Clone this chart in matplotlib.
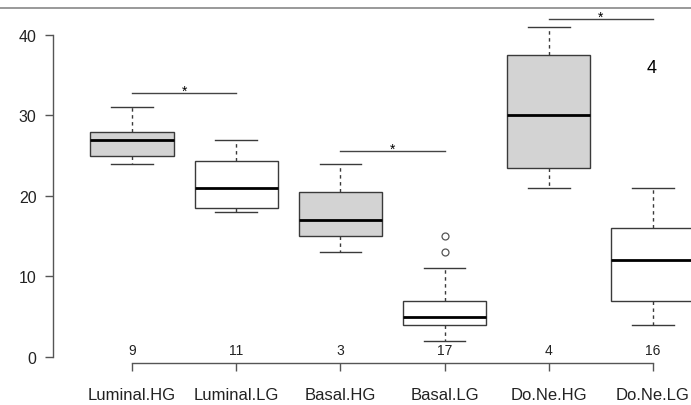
import numpy as np
import matplotlib.pyplot as plt

plt.rcParams['font.family'] = ['Liberation Sans', 'DejaVu Sans']

# five-number summaries
groups = ['Luminal.HG', 'Luminal.LG', 'Basal.HG', 'Basal.LG', 'Do.Ne.HG', 'Do.Ne.LG']
whislo = [24, 18, 13, 2, 21, 4]
q1 = [25, 18.5, 15, 4, 23.5, 7]
med = [27, 21, 17, 5, 30, 12]
q3 = [28, 24.4, 20.5, 7, 37.5, 16]
whishi = [31, 27, 24, 11, 41, 21]
fliers = [[], [], [], [13, 15], [], []]
counts = [9, 11, 3, 17, 4, 16]
fills = ['#d3d3d3', 'white', '#d3d3d3', 'white', '#d3d3d3', 'white']

# significance bars (group a, group b, height)
sig_a = [1, 3, 5]
sig_b = [2, 4, 6]
sig_y = [32.8, 25.6, 42]

W, H = 691, 406
fig = plt.figure(figsize=(W / 100, H / 100), dpi=100)
# axes placed in pixel terms to mimic the R plot region
left, right, top, bottom = 53, 691, 0, 363.7
ax = fig.add_axes([left / W, (H - bottom) / H, (right - left) / W, (bottom - top) / H])

stats = []
for i in range(len(groups)):
    stats.append(dict(label=groups[i], whislo=whislo[i], q1=q1[i], med=med[i],
                      q3=q3[i], whishi=whishi[i], fliers=fliers[i]))

edge = '#3a3a3a'
bp = ax.bxp(stats, positions=np.arange(1, 7), widths=0.8, capwidths=0.4,
            patch_artist=True,
            boxprops=dict(edgecolor=edge, linewidth=1.0),
            medianprops=dict(color='black', linewidth=2.0),
            whiskerprops=dict(color=edge, linewidth=1.0, linestyle=(0, (2.5, 2.5))),
            capprops=dict(color=edge, linewidth=1.0),
            flierprops=dict(marker='o', markersize=5, markerfacecolor='none',
                            markeredgecolor='#555555', markeredgewidth=0.9))
for patch, c in zip(bp['boxes'], fills):
    patch.set_facecolor(c)

px_unit = 104.2
x0 = 1 - (132 - left) / px_unit
ax.set_xlim(x0, x0 + (right - left) / px_unit)
ax.set_ylim(-0.71, 44.47)

# significance bars with stars
for a, b, y in zip(sig_a, sig_b, sig_y):
    ax.plot([a, b], [y, y], color='#444444', lw=1.0, clip_on=False)
    ax.text((a + b) / 2, y + 0.3, '*', ha='center', va='center', fontsize=10)

# n per group above the axis
for i, n in enumerate(counts):
    ax.text(i + 1, 0.87, str(n), ha='center', va='center', fontsize=10, color='#222222')

ax.text(0.939, 0.813, '4', transform=ax.transAxes, ha='center', va='center', fontsize=13)

for s in ['top', 'right']:
    ax.spines[s].set_visible(False)
ax.spines['left'].set_bounds(0, 40)
ax.spines['bottom'].set_bounds(1, 6)
for s in ['left', 'bottom']:
    ax.spines[s].set_color('#555555')
    ax.spines[s].set_linewidth(1.0)

ax.set_yticks([0, 10, 20, 30, 40])
ax.set_xticks(np.arange(1, 7))
ax.set_xticklabels(groups)
ax.tick_params(axis='y', length=5.8, width=1.0, color='#555555', pad=6, labelsize=11.5, labelcolor='#222222')
ax.tick_params(axis='x', length=5.8, width=1.0, color='#555555', pad=12, labelsize=12, labelcolor='#222222')

# thin grey rule across the top
fig.add_artist(plt.Line2D([0, 1], [(H - 9) / H, (H - 9) / H], color='#888888', lw=1.2))

fig.savefig('out.png', dpi=100)
